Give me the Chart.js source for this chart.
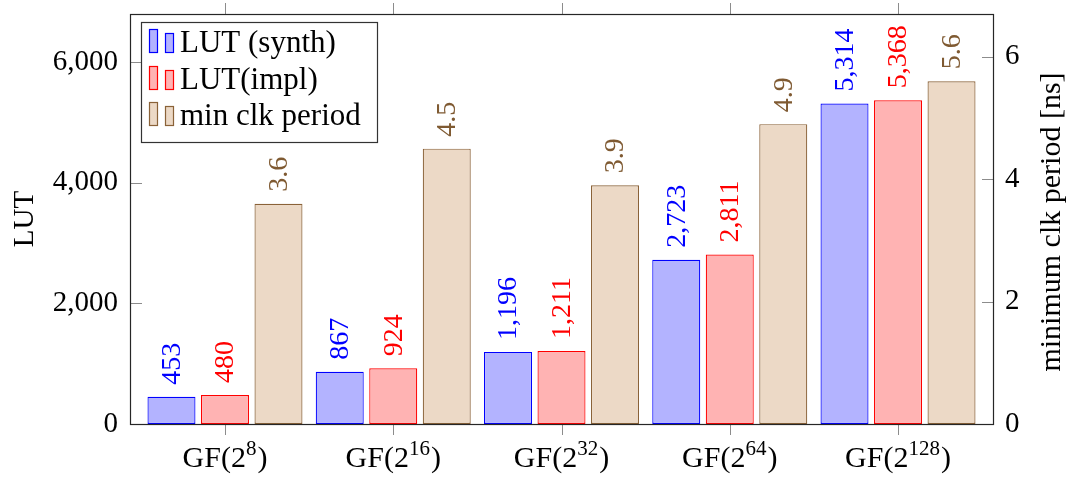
<!DOCTYPE html>
<html>
<head>
<meta charset="utf-8">
<script src="https://cdn.jsdelivr.net/npm/chart.js@4.4.1/dist/chart.umd.min.js"></script>
<style>
  html, body { margin: 0; padding: 0; background: #fff; }
  #wrap { width: 1070px; height: 477px; position: relative; }
</style>
</head>
<body>
<div id="wrap"><canvas id="c"></canvas></div>
<script>
// Field sizes (exponent after '^' is drawn as a superscript)
const categories = ['GF(2^8)', 'GF(2^16)', 'GF(2^32)', 'GF(2^64)', 'GF(2^128)'];
// LUT usage after synthesis and after implementation
const lutSynth = [453, 867, 1196, 2723, 5314];
const lutImpl = [480, 924, 1211, 2811, 5368];
// Minimum clock period in ns
const minClkPeriod = [3.6, 4.5, 3.9, 4.9, 5.6];
// Axis ticks
const lutTicks = [0, 2000, 4000, 6000];
const nsTicks = [0, 2, 4, 6];
const seriesNames = ['LUT (synth)', 'LUT(impl)', 'min clk period'];
const axisTitles = ['LUT', 'minimum clk period [ns]'];

const SERIF = '"Liberation Serif", "DejaVu Serif", serif';
const styles = [
  { fill: '#b3b3ff', stroke: '#0000ff', text: '#0000ff' },
  { fill: '#ffb3b3', stroke: '#ff0000', text: '#ff0000' },
  { fill: '#ecd9c6', stroke: '#8a6238', text: '#7f5a32' }
];

const toPoints = arr => arr.map((v, i) => ({ x: i, y: v }));

const valueLabels = {
  id: 'valueLabels',
  afterDatasetsDraw(chart) {
    const ctx = chart.ctx;
    chart.data.datasets.forEach((ds, di) => {
      const meta = chart.getDatasetMeta(di);
      meta.data.forEach((el, i) => {
        const v = ds.data[i].y;
        const txt = di === 2 ? v.toFixed(1) : v.toLocaleString('en-US');
        ctx.save();
        ctx.translate(el.x, el.y - 12);
        ctx.rotate(-Math.PI / 2);
        ctx.font = '28px ' + SERIF;
        ctx.fillStyle = styles[di].text;
        ctx.textAlign = 'left';
        ctx.textBaseline = 'middle';
        ctx.fillText(txt, 0, 1);
        ctx.restore();
      });
    });
  }
};

const frameAndDecor = {
  id: 'frameAndDecor',
  afterDraw(chart) {
    const ctx = chart.ctx;
    const a = chart.chartArea;
    const xs = chart.scales.x, yl = chart.scales.yLut, yr = chart.scales.yNs;
    ctx.save();
    // tick marks
    ctx.strokeStyle = '#8c8c8c';
    ctx.lineWidth = 1;
    ctx.beginPath();
    xs.ticks.forEach(t => {
      const px = Math.round(xs.getPixelForValue(t.value)) + 0.5;
      ctx.moveTo(px, a.bottom); ctx.lineTo(px, a.bottom + 11);
      ctx.moveTo(px, a.top); ctx.lineTo(px, a.top - 11);
    });
    yl.ticks.forEach(t => {
      const py = Math.round(yl.getPixelForValue(t.value)) + 0.5;
      ctx.moveTo(a.left, py); ctx.lineTo(a.left + 12, py);
    });
    yr.ticks.forEach(t => {
      const py = Math.round(yr.getPixelForValue(t.value)) + 0.5;
      ctx.moveTo(a.right, py); ctx.lineTo(a.right - 11, py);
    });
    ctx.stroke();
    // axis box
    ctx.strokeStyle = '#262626';
    ctx.lineWidth = 1.2;
    ctx.strokeRect(a.left + 0.5, a.top + 0.5, a.right - a.left, a.bottom - a.top);

    // category labels with superscript exponents
    ctx.fillStyle = '#000';
    ctx.textBaseline = 'alphabetic';
    ctx.textAlign = 'left';
    xs.ticks.forEach(t => {
      const label = categories[t.value];
      const parts = label.split('^');
      const head = parts[0];
      const sup = parts[1].replace(')', '');
      const tail = ')';
      const mainFont = '30px ' + SERIF, supFont = '21px ' + SERIF;
      ctx.font = mainFont; const wHead = ctx.measureText(head).width; const wTail = ctx.measureText(tail).width;
      ctx.font = supFont; const wSup = ctx.measureText(sup).width;
      const total = wHead + wSup + 1 + wTail;
      let x = xs.getPixelForValue(t.value) - total / 2;
      const base = 467;
      ctx.font = mainFont; ctx.fillText(head, x, base); x += wHead;
      ctx.font = supFont; ctx.fillText(sup, x, base - 12); x += wSup + 1;
      ctx.font = mainFont; ctx.fillText(tail, x, base);
    });

    // axis titles
    ctx.font = '29px ' + SERIF;
    ctx.textAlign = 'center';
    ctx.textBaseline = 'middle';
    ctx.save();
    ctx.translate(25, (a.top + a.bottom) / 2);
    ctx.rotate(-Math.PI / 2);
    ctx.fillText(axisTitles[0], 0, 0);
    ctx.restore();
    ctx.save();
    ctx.translate(1052, (a.top + a.bottom) / 2 + 3);
    ctx.rotate(-Math.PI / 2);
    ctx.font = '30px ' + SERIF;
    ctx.fillText(axisTitles[1], 0, 0);
    ctx.restore();

    // legend
    const lx = 141.5, ly = 22.5, lw = 236, lh = 120;
    ctx.fillStyle = '#fff';
    ctx.fillRect(lx, ly, lw, lh);
    ctx.strokeStyle = '#333';
    ctx.lineWidth = 1.2;
    ctx.strokeRect(lx, ly, lw, lh);
    const rows = [41, 78, 114];
    chart.data.datasets.forEach((ds, di) => {
      const cy = rows[di];
      const st = styles[di];
      ctx.lineWidth = 1.2;
      ctx.fillStyle = st.fill;
      ctx.strokeStyle = st.stroke;
      ctx.fillRect(149.5, cy - 11.5, 8, 23);
      ctx.strokeRect(149.5, cy - 11.5, 8, 23);
      ctx.fillRect(165.5, cy - 7.5, 8, 19);
      ctx.strokeRect(165.5, cy - 7.5, 8, 19);
      ctx.fillStyle = '#000';
      ctx.font = '31px ' + SERIF;
      ctx.textAlign = 'left';
      ctx.textBaseline = 'alphabetic';
      ctx.fillText(ds.label, 180, cy + 11);
    });
    ctx.restore();
  }
};

const datasets = [
  { label: seriesNames[0], data: toPoints(lutSynth), yAxisID: 'yLut' },
  { label: seriesNames[1], data: toPoints(lutImpl), yAxisID: 'yLut' },
  { label: seriesNames[2], data: toPoints(minClkPeriod), yAxisID: 'yNs' }
].map((d, i) => Object.assign(d, {
  backgroundColor: styles[i].fill,
  borderColor: styles[i].stroke,
  borderWidth: 1.2,
  borderSkipped: false,
  categoryPercentage: 0.954,
  barPercentage: 0.897
}));

const fixVertical = (s, w) => { s.width = w; s.paddingTop = 14; s.paddingBottom = 0; };

new Chart(document.getElementById('c'), {
  type: 'bar',
  data: { datasets },
  options: {
    responsive: true,
    maintainAspectRatio: false,
    animation: false,
    layout: { padding: 0 },
    plugins: { legend: { display: false }, tooltip: { enabled: false } },
    scales: {
      x: {
        type: 'linear',
        position: 'bottom',
        offset: false,
        min: -0.5645,
        max: 4.5645,
        afterBuildTicks: s => { s.ticks = categories.map((c, i) => ({ value: i })); },
        afterFit: s => { s.height = 53; s.paddingLeft = 0; s.paddingRight = 0; },
        grid: { display: false, drawTicks: false, tickLength: 0, offset: false },
        border: { display: false },
        ticks: { display: false }
      },
      yLut: {
        type: 'linear',
        position: 'left',
        min: 0,
        max: 6800,
        afterBuildTicks: s => { s.ticks = lutTicks.map(v => ({ value: v })); },
        afterFit: s => fixVertical(s, 130),
        grid: { display: false, drawTicks: false, tickLength: 0 },
        border: { display: false },
        ticks: {
          padding: 12,
          color: '#000',
          font: { family: SERIF, size: 29 },
          callback: v => v.toLocaleString('en-US')
        }
      },
      yNs: {
        type: 'linear',
        position: 'right',
        min: 0,
        max: 6.7,
        afterBuildTicks: s => { s.ticks = nsTicks.map(v => ({ value: v })); },
        afterFit: s => fixVertical(s, 77),
        grid: { display: false, drawTicks: false, tickLength: 0 },
        border: { display: false },
        ticks: {
          padding: 12,
          color: '#000',
          font: { family: SERIF, size: 29 },
          callback: v => String(v)
        }
      }
    }
  },
  plugins: [valueLabels, frameAndDecor]
});
</script>
</body>
</html>
